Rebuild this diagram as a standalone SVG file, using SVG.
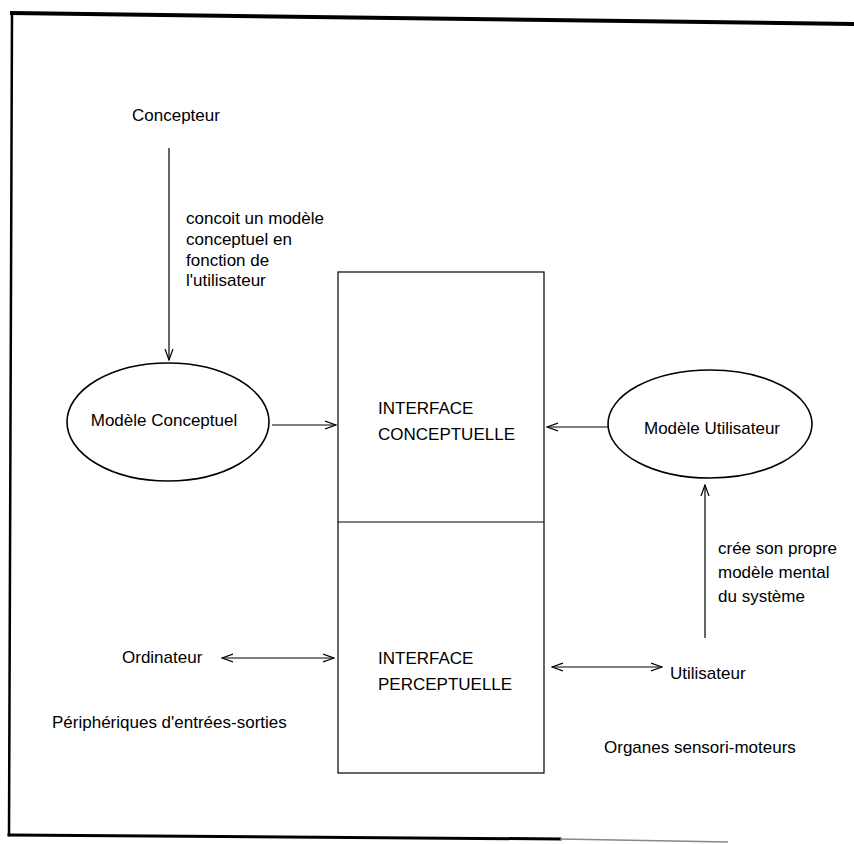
<svg xmlns="http://www.w3.org/2000/svg" width="854" height="844" viewBox="0 0 854 844">
<defs>
<style>
.t{font-family:"Liberation Sans",Arial,sans-serif;font-size:17px;fill:#000}
.ln{stroke:#000;stroke-width:1.2;fill:none}
.el{stroke:#000;stroke-width:1.6;fill:none}
.fr{stroke:#000;fill:none;stroke-linecap:square}
</style>
<marker id="ah" viewBox="0 0 12 10" refX="11" refY="5" markerWidth="12" markerHeight="10" markerUnits="userSpaceOnUse" orient="auto-start-reverse">
<path d="M0,1 L11,5 L0,9" fill="none" stroke="#000" stroke-width="1.2"/>
</marker>
</defs>
<rect width="854" height="844" fill="#fff"/>
<g id="frame">
<path class="fr" d="M12,13 L854,24" stroke-width="4"/>
<path class="fr" d="M12,13 L9,835" stroke-width="2.5"/>
<path class="fr" d="M9,835 L560,839" stroke-width="3"/>
<path d="M560,839 L728,842" stroke="#888" stroke-width="1.5" fill="none"/>
</g>
<g id="connectors">
<line class="ln" x1="169" y1="148" x2="169" y2="360" marker-end="url(#ah)"/>
<line class="ln" x1="272" y1="425" x2="336" y2="425" marker-end="url(#ah)"/>
<line class="ln" x1="608" y1="427" x2="547" y2="427" marker-end="url(#ah)"/>
<line class="ln" x1="705" y1="638" x2="705" y2="485" marker-end="url(#ah)"/>
<line class="ln" x1="222" y1="658" x2="334" y2="658" marker-start="url(#ah)" marker-end="url(#ah)"/>
<line class="ln" x1="552" y1="667" x2="662" y2="667" marker-start="url(#ah)" marker-end="url(#ah)"/>
</g>
<g id="concepteur"><text class="t" x="132" y="121">Concepteur</text></g>
<g id="label-concoit">
<text class="t" x="186" y="224">concoit un modèle</text>
<text class="t" x="186" y="245">conceptuel en</text>
<text class="t" x="186" y="266">fonction de</text>
<text class="t" x="186" y="286">l'utilisateur</text>
</g>
<g id="modele-conceptuel">
<ellipse class="el" cx="168" cy="422" rx="101" ry="59"/>
<text class="t" x="164" y="426" text-anchor="middle">Modèle Conceptuel</text>
</g>
<g id="interface">
<rect class="ln" x="338" y="272" width="206" height="501"/>
<line class="ln" x1="338" y1="522" x2="544" y2="522"/>
<text class="t" x="378" y="414">INTERFACE</text>
<text class="t" x="378" y="440">CONCEPTUELLE</text>
<text class="t" x="378" y="664">INTERFACE</text>
<text class="t" x="378" y="690">PERCEPTUELLE</text>
</g>
<g id="modele-utilisateur">
<ellipse class="el" cx="710" cy="424" rx="102" ry="54"/>
<text class="t" x="712" y="434" text-anchor="middle">Modèle Utilisateur</text>
</g>
<g id="label-cree">
<text class="t" x="718" y="554">crée son propre</text>
<text class="t" x="718" y="578">modèle mental</text>
<text class="t" x="718" y="602">du système</text>
</g>
<g id="ordinateur"><text class="t" x="122" y="663">Ordinateur</text></g>
<g id="utilisateur"><text class="t" x="670" y="679">Utilisateur</text></g>
<g id="peripheriques"><text class="t" x="52" y="728">Périphériques d'entrées-sorties</text></g>
<g id="organes"><text class="t" x="604" y="753">Organes sensori-moteurs</text></g>
</svg>
